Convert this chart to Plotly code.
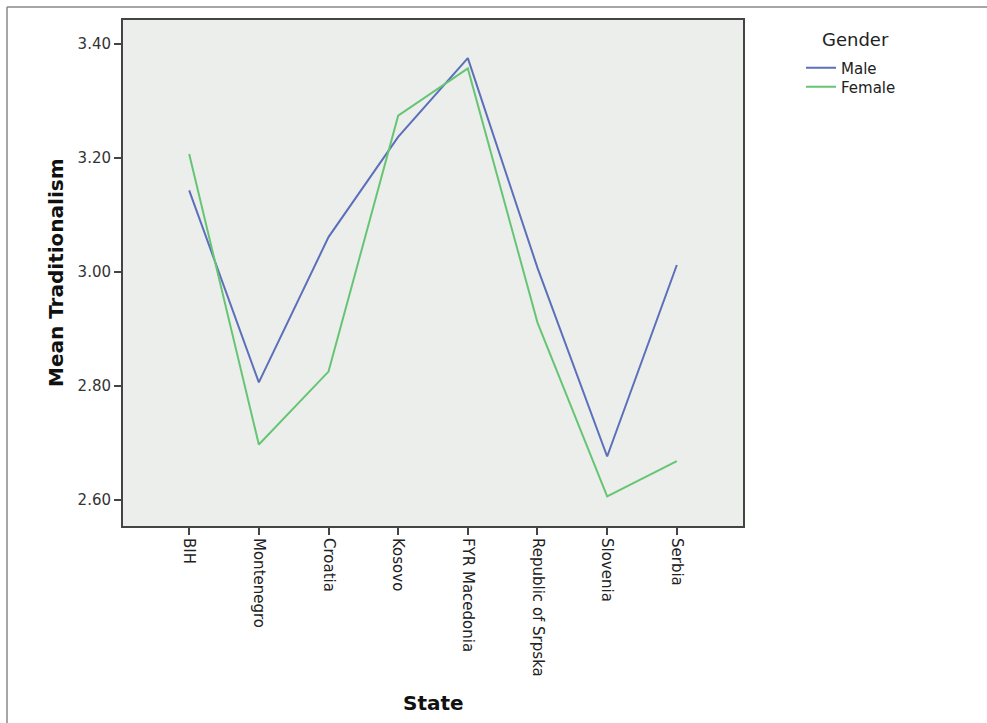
import plotly.graph_objects as go

states = ["BIH", "Montenegro", "Croatia", "Kosovo", "FYR Macedonia",
          "Republic of Srpska", "Slovenia", "Serbia"]
male = [3.143, 2.806, 3.061, 3.237, 3.375, 3.007, 2.676, 3.012]
female = [3.207, 2.697, 2.825, 3.274, 3.357, 2.911, 2.606, 2.668]
y_ticks = [2.60, 2.80, 3.00, 3.20, 3.40]
y_tick_labels = ["2.60", "2.80", "3.00", "3.20", "3.40"]

W, H = 987, 723
L, R, T, B = 123, 244, 20, 197
pw, ph = W - L - R, H - T - B

def px_x(p):
    return (p - L) / pw

def px_y(p):
    return (H - B - p) / ph

font = "DejaVu Sans"

fig = go.Figure()
fig.add_trace(go.Scatter(x=list(range(len(states))), y=male, mode="lines",
                         name="Male", legend="legend",
                         line=dict(color="#5b6fbb", width=2)))
fig.add_trace(go.Scatter(x=list(range(len(states))), y=female, mode="lines",
                         name="Female", legend="legend2",
                         line=dict(color="#66c574", width=2)))

leg_common = dict(xanchor="left", yanchor="middle",
                  font=dict(size=15, family=font, color="#222222"),
                  bgcolor="rgba(0,0,0,0)", itemwidth=30,
                  borderwidth=0)

fig.update_layout(
    width=W, height=H,
    margin=dict(l=L, r=R, t=T, b=B),
    paper_bgcolor="white",
    plot_bgcolor="#eceeeb",
    font=dict(family=font, color="#222222"),
    showlegend=True,
    legend=dict(x=px_x(801), y=px_y(68), **leg_common),
    legend2=dict(x=px_x(801), y=px_y(87), **leg_common),
    xaxis=dict(
        range=[-0.95, 7.95],
        tickmode="array", tickvals=list(range(len(states))), ticktext=states,
        tickangle=90, tickfont=dict(size=15, family=font, color="#222222"),
        ticks="outside", ticklen=7, tickwidth=2, tickcolor="#444444",
        showline=True, linecolor="#444444", linewidth=2, mirror=True,
        showgrid=False, zeroline=False,
        automargin=False,
    ),
    yaxis=dict(
        range=[2.554, 3.442],
        tickmode="array", tickvals=y_ticks, ticktext=y_tick_labels,
        tickfont=dict(size=15, family=font, color="#333333"),
        ticks="outside", ticklen=7, tickwidth=2, tickcolor="#444444",
        showline=True, linecolor="#444444", linewidth=2, mirror=True,
        showgrid=False, zeroline=False,
        automargin=False,
    ),
)

# Axis titles
fig.add_annotation(text="<b>State</b>", xref="paper", yref="paper",
                   x=0.5, y=px_y(703), xanchor="center", yanchor="middle",
                   showarrow=False, font=dict(size=20, family=font, color="#111111"))
fig.add_annotation(text="<b>Mean Traditionalism</b>", xref="paper", yref="paper",
                   x=px_x(56), y=0.5, xanchor="center", yanchor="middle", textangle=-90,
                   showarrow=False, font=dict(size=20, family=font, color="#111111"))

# Legend title
fig.add_annotation(text="Gender", xref="paper", yref="paper",
                   x=px_x(855), y=px_y(39), xanchor="center", yanchor="middle",
                   showarrow=False, font=dict(size=18, family=font, color="#222222"))

# Outer frame (top and left)
fig.add_shape(type="line", xref="paper", yref="paper",
              x0=px_x(7), x1=px_x(990), y0=px_y(7), y1=px_y(7),
              line=dict(color="#888888", width=1.5))
fig.add_shape(type="line", xref="paper", yref="paper",
              x0=px_x(7), x1=px_x(7), y0=px_y(7), y1=px_y(730),
              line=dict(color="#888888", width=1.5))

fig.write_html("out.html",
               config={"displayModeBar": False},
               post_script="document.body.style.margin='0px';document.body.style.overflow='hidden';")
